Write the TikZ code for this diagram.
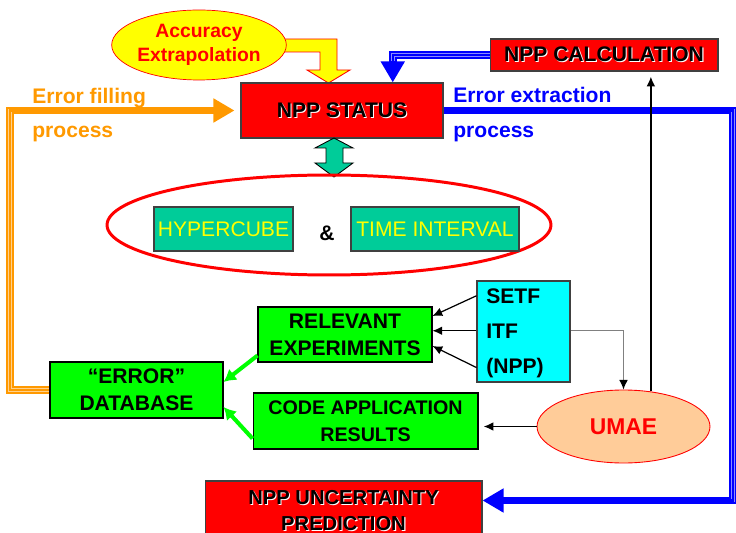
\documentclass[tikz,border=0pt]{standalone}
\usepackage{fontspec}
\setmainfont{Liberation Sans}
\usetikzlibrary{shapes, arrows.meta, positioning, calc}
\definecolor{nppred}{HTML}{FF0000}
\definecolor{expgreen}{HTML}{00FF00}
\definecolor{cubeteal}{HTML}{00CC99}
\definecolor{facilcyan}{HTML}{00FFFF}
\definecolor{accyellow}{HTML}{FFFF00}
\definecolor{umaepeach}{HTML}{FFCC99}
\definecolor{fillorange}{HTML}{FF9900}
\definecolor{extrblue}{HTML}{0000FF}
\newcommand{\boxfont}{\fontsize{12}{15.3}\selectfont\bfseries}
\newcommand{\shadowed}[1]{\leavevmode\rlap{\kern0.6pt\raisebox{-0.6pt}{\textcolor{white}{#1}}}#1}
\tikzstyle{block} = [rectangle, draw=black!75, line width=0.6pt, align=center, inner sep=0pt, font=\boxfont]
\tikzstyle{redblock} = [block, fill=nppred]
\tikzstyle{greenblock} = [block, fill=expgreen, draw=black]
\tikzstyle{tealblock} = [block, fill=cubeteal, text=accyellow, font=\fontsize{12}{14}\selectfont]
\tikzstyle{cloud} = [ellipse, draw=nppred, inner sep=0pt, align=center]
\tikzstyle{line} = [draw, line width=0.7pt, -{Latex[length=5.5pt,width=5pt,color=black]}]
\tikzstyle{greenline} = [draw=expgreen, line width=2.3pt, -{Latex[length=7pt,width=8pt]}]
\tikzstyle{caption} = [anchor=base west, inner sep=0pt, font=\boxfont]
\tikzset{pipe/.style={draw=#1, line width=4.4pt, -{Triangle[length=12pt,width=13pt]},
  postaction={draw=#1!45!white, line width=2.2pt, -, shorten >=12.5pt},
  postaction={draw=#1, line width=1.4pt, -, shorten >=12.5pt}}}

\begin{document}
\begin{tikzpicture}[x=0.02cm, y=-0.02cm]
    \useasboundingbox (0,0) rectangle (736,533);
    % yellow block arrow behind the ellipse
    \draw[nppred, line width=0.5pt, fill=accyellow] (270,39) -- (337,39) -- (337,70) -- (350,70) -- (328.5,83) -- (307,70) -- (320,70) -- (320,52) -- (270,52) -- cycle;
    \node [cloud, fill=accyellow, minimum width=3.36cm, minimum height=1.4cm, text=nppred, font=\fontsize{11}{13.6}\selectfont\bfseries] (accuracy) at (199,45) {Accuracy\\Extrapolation};

    \node [redblock, minimum width=4.04cm, minimum height=1.1cm] (status) at (342,110.5) {\shadowed{NPP STATUS}};
    \node [redblock, minimum width=4.56cm, minimum height=0.64cm] (calc) at (604,55) {\shadowed{NPP CALCULATION}};
    \node [redblock, minimum width=5.54cm, minimum height=1.2cm, font=\fontsize{11.5}{14.5}\selectfont\bfseries] (uncert) at (343.5,511) {\shadowed{NPP UNCERTAINTY}\\\shadowed{PREDICTION}};

    % hypercube and time interval
    \draw[black, line width=0.5pt, fill=cubeteal] (334,138) -- (353,148) -- (343,148) -- (343,163) -- (353,163) -- (334,177) -- (315,163) -- (326,163) -- (326,148) -- (315,148) -- cycle;
    \node [cloud, line width=1.7pt, minimum width=8.88cm, minimum height=2cm] (window) at (329,225) {};
    \node [tealblock, minimum width=2.78cm, minimum height=0.88cm] (hyper) at (223.5,229) {HYPERCUBE};
    \node [font=\boxfont, inner sep=0pt] (amp) at (327,233) {\&};
    \node [tealblock, minimum width=3.36cm, minimum height=0.88cm] (interval) at (435,229) {TIME INTERVAL};

    % experiments, database, code results
    \node [greenblock, minimum width=3.48cm, minimum height=1.1cm] (relevant) at (345,334.5) {RELEVANT\\EXPERIMENTS};
    \node [greenblock, minimum width=3.46cm, minimum height=1.12cm] (database) at (136.5,390) {“ERROR”\\DATABASE};
    \node [greenblock, minimum width=4.5cm, minimum height=1.12cm, font=\fontsize{11.2}{15.3}\selectfont\bfseries] (code) at (365.5,421) {CODE APPLICATION\\RESULTS};
    \node [block, fill=facilcyan, minimum width=1.86cm, minimum height=2.02cm] (facility) at (523.5,331.5) {};
    \node [caption] (setf) at (486,303) {SETF};
    \node [caption] (itf) at (486,338) {ITF};
    \node [caption] (npp) at (486,373) {(NPP)};
    \node [cloud, fill=umaepeach, line width=0.5pt, minimum width=3.46cm, minimum height=1.46cm, text=nppred, font=\fontsize{13}{15}\selectfont\bfseries] (umae) at (623.5,426.5) {UMAE};

    % process texts
    \node [caption, text=fillorange] (fillA) at (32,104) {Error filling};
    \node [caption, text=fillorange] (fillB) at (32,138) {process};
    \node [caption, text=extrblue] (extrA) at (453,103) {Error extraction};
    \node [caption, text=extrblue] (extrB) at (453,138) {process};

    % pipes
    \coordinate (fillbend) at (10,110.5);
    \coordinate (extrbend) at (733,110.5);
    \path [pipe=fillorange] (database.west) -| (fillbend) -- ([xshift=-3.4pt]status.west);
    \path [pipe=extrblue] (status.east) -- (extrbend) |- ([yshift=0.21cm]uncert.east);
    \path [pipe=extrblue] (calc.west) -| ($(status.north)!0.5!(status.north east)$);

    % thin connectors
    \path [line] (setf.west -| facility.west) -- ([yshift=0.37cm]relevant.east);
    \path [line] (itf.west -| facility.west) -- (itf.west -| relevant.east);
    \path [line] (npp.west -| facility.west) -- ([yshift=-0.23cm]relevant.east);
    \path [line, draw=gray] (itf.west -| facility.east) -| (umae.north);
    \path [line] (umae.west) -- ([xshift=3pt]code.east |- umae.west);
    \path [line] (umae.52.6) -- ([yshift=-3pt]umae.52.6 |- calc.south);
    \path [greenline] ([yshift=0.14cm]relevant.south west) -- ([yshift=0.16cm]database.east);
    \path [greenline] ([yshift=0.22cm]code.south west) -- ([yshift=-0.34cm]database.east);
\end{tikzpicture}
\end{document}
